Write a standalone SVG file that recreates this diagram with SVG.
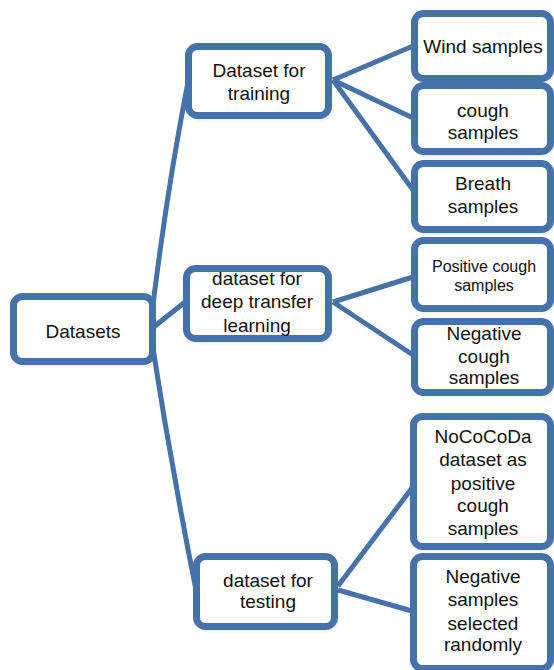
<svg xmlns="http://www.w3.org/2000/svg" width="554" height="670" viewBox="0 0 554 670">
<defs>
<style>
.box{fill:#fff;stroke:#4672aa;stroke-width:7}
.sh{fill:#000;opacity:0.18;filter:url(#blur)}
.c{fill:none;stroke:#4672aa;stroke-width:5}
text{font-family:"Liberation Sans",Arial,sans-serif;font-size:19px;fill:#111;text-anchor:middle}
.s{font-size:16px}
</style>
<filter id="blur" x="-20%" y="-20%" width="140%" height="140%"><feGaussianBlur stdDeviation="2"/></filter>
</defs>
<rect width="554" height="670" fill="#fff"/>
<g id="connectors">
<path class="c" d="M150,330 Q165,200 188,82"/>
<path class="c" d="M150,330 L185,302"/>
<path class="c" d="M150,330 Q170,460 196,590"/>
<path class="c" d="M333,80 L413,46"/>
<path class="c" d="M333,80 L413,118"/>
<path class="c" d="M333,80 L413,190"/>
<path class="c" d="M333,302 L413,277"/>
<path class="c" d="M333,302 L413,355"/>
<path class="c" d="M338,586 L412,488"/>
<path class="c" d="M338,590 L412,611"/>
</g>
<g id="datasets">
<rect class="sh" x="15.5" y="299.5" width="139" height="65" rx="9"/>
<rect class="box" x="13.5" y="296.5" width="139" height="65" rx="9"/>
<text x="83" y="338">Datasets</text>
</g>
<g id="training">
<rect class="sh" x="190.5" y="49.5" width="140" height="69" rx="9"/>
<rect class="box" x="188.5" y="46.5" width="140" height="69" rx="9"/>
<text x="259" y="77">Dataset for</text>
<text x="259" y="100">training</text>
</g>
<g id="transfer">
<rect class="sh" x="188.5" y="271.5" width="142" height="70" rx="9"/>
<rect class="box" x="186.5" y="268.5" width="142" height="70" rx="9"/>
<text x="257" y="285">dataset for</text>
<text x="257" y="308">deep transfer</text>
<text x="257" y="332">learning</text>
</g>
<g id="testing">
<rect class="sh" x="198.5" y="559.5" width="138" height="70" rx="9"/>
<rect class="box" x="196.5" y="556.5" width="138" height="70" rx="9"/>
<text x="268" y="587">dataset for</text>
<text x="268" y="608">testing</text>
</g>
<g id="wind">
<rect class="sh" x="416.5" y="16.5" width="136" height="65" rx="9"/>
<rect class="box" x="414.5" y="13.5" width="136" height="65" rx="9"/>
<text x="483" y="53">Wind samples</text>
</g>
<g id="cough">
<rect class="sh" x="416.5" y="88.5" width="136" height="66" rx="9"/>
<rect class="box" x="414.5" y="85.5" width="136" height="66" rx="9"/>
<text x="483" y="117">cough</text>
<text x="483" y="139">samples</text>
</g>
<g id="breath">
<rect class="sh" x="416.5" y="166.5" width="136" height="66" rx="9"/>
<rect class="box" x="414.5" y="163.5" width="136" height="66" rx="9"/>
<text x="483" y="190">Breath</text>
<text x="483" y="213">samples</text>
</g>
<g id="positive">
<rect class="sh" x="416.5" y="243.5" width="136" height="68" rx="9"/>
<rect class="box" x="414.5" y="240.5" width="136" height="68" rx="9"/>
<text class="s" x="484" y="272">Positive cough</text>
<text class="s" x="484" y="291">samples</text>
</g>
<g id="negative-cough">
<rect class="sh" x="416.5" y="324.5" width="136" height="71" rx="9"/>
<rect class="box" x="414.5" y="321.5" width="136" height="71" rx="9"/>
<text x="484" y="340">Negative</text>
<text x="484" y="363">cough</text>
<text x="484" y="384">samples</text>
</g>
<g id="nococoda">
<rect class="sh" x="415.5" y="419.5" width="137" height="130" rx="9"/>
<rect class="box" x="413.5" y="416.5" width="137" height="130" rx="9"/>
<text x="483" y="443">NoCoCoDa</text>
<text x="483" y="466">dataset as</text>
<text x="483" y="490">positive</text>
<text x="483" y="512">cough</text>
<text x="483" y="535">samples</text>
</g>
<g id="negative-random">
<rect class="sh" x="415.5" y="559.5" width="137" height="112" rx="9"/>
<rect class="box" x="413.5" y="556.5" width="137" height="112" rx="9"/>
<text x="483" y="583">Negative</text>
<text x="483" y="606">samples</text>
<text x="483" y="630">selected</text>
<text x="483" y="651">randomly</text>
</g>
</svg>
